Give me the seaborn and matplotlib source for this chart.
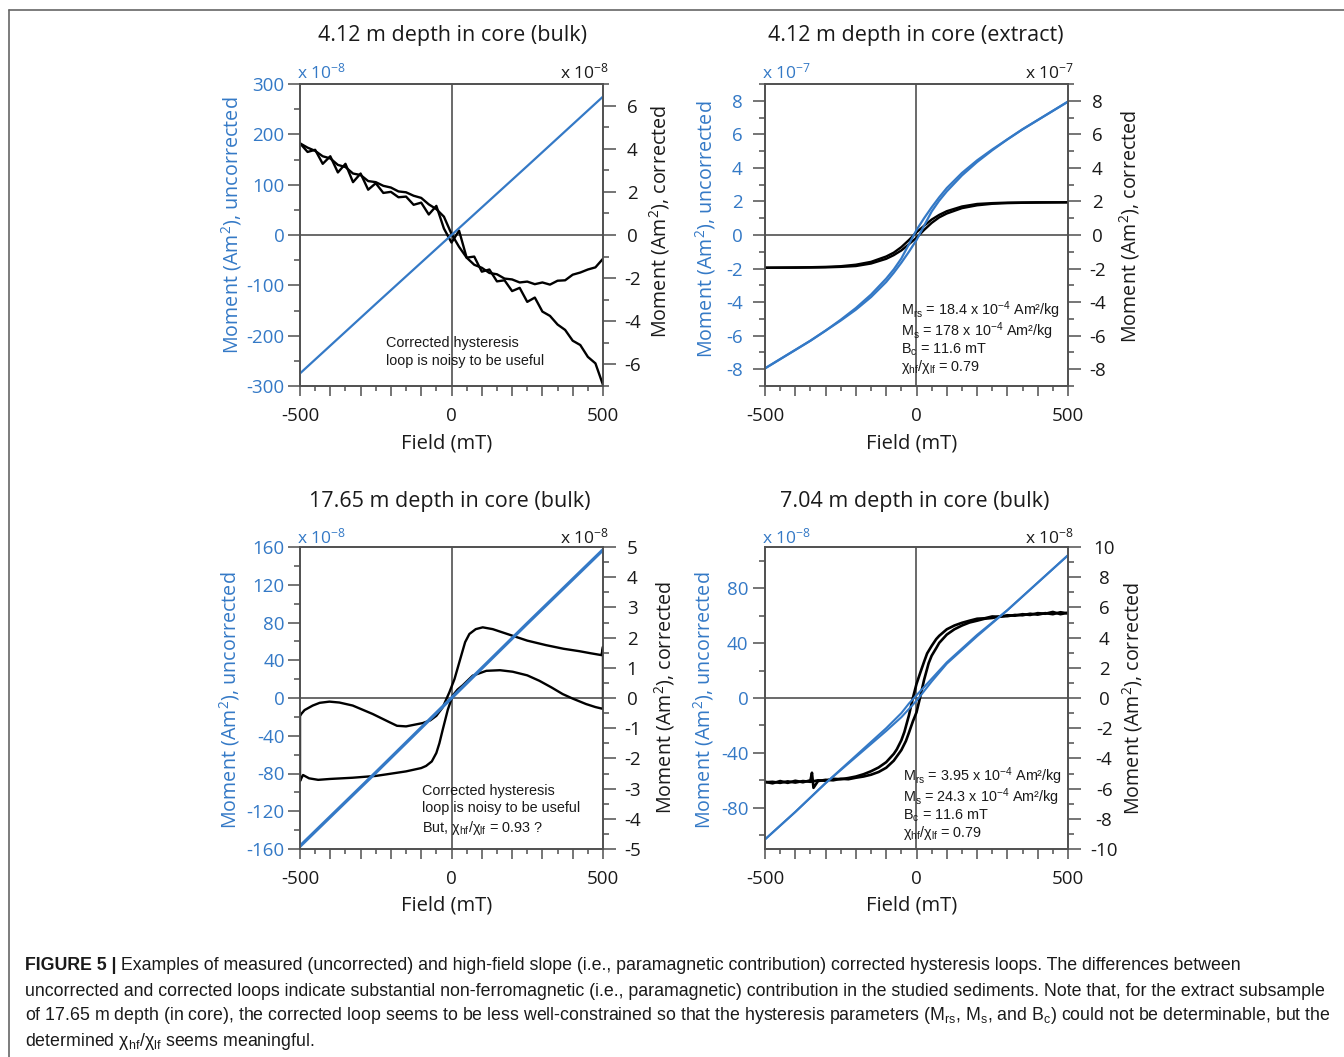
import matplotlib
matplotlib.use("Agg")
import matplotlib.pyplot as plt
import seaborn as sns
from matplotlib.ticker import MultipleLocator, FixedLocator, FuncFormatter
from matplotlib import font_manager
from matplotlib.lines import Line2D

# ---------------- data ----------------
FIELD_25 = [-500, -475, -450, -425, -400, -375, -350, -325, -300, -275, -250,
            -225, -200, -175, -150, -125, -100, -75, -50, -25, 0, 25, 50, 75,
            100, 125, 150, 175, 200, 225, 250, 275, 300, 325, 350, 375, 400,
            425, 450, 475, 500]

# Panel 1: 4.12 m bulk (x1e-8)
p1_blue_field = [-500, -250, 0, 250, 500]
p1_blue = [-275, -137, 0, 137, 275]
p1_corr_a = [4.25, 4.05, 3.90, 3.65, 3.55, 3.25, 3.15, 2.85, 2.78, 2.50, 2.45,
             2.28, 2.20, 2.02, 1.98, 1.82, 1.72, 1.42, 1.20, 0.85, 0.05, -0.55,
             -1.05, -1.38, -1.52, -1.76, -1.82, -2.02, -2.06, -2.20, -2.16,
             -2.28, -2.20, -2.30, -2.12, -2.10, -1.84, -1.74, -1.60, -1.50, -1.10]
p1_corr_b = [4.25, 3.85, 3.95, 3.30, 3.65, 2.90, 3.30, 2.45, 2.85, 2.10, 2.40,
             1.95, 2.00, 1.75, 1.78, 1.40, 1.50, 0.95, 1.35, 0.30, -0.35, 0.20,
             -1.05, -1.00, -1.70, -1.60, -2.15, -2.10, -2.60, -2.45, -3.10,
             -2.90, -3.55, -3.75, -4.15, -4.40, -4.90, -5.10, -5.65, -5.95, -6.95]

# Panel 2: 4.12 m extract (x1e-7)
p2_field = [-500, -450, -400, -350, -300, -250, -200, -150, -100, -75, -50, -25,
            0, 25, 50, 75, 100, 150, 200, 250, 300, 350, 400, 450, 500]
p2_blue_up = [-7.95, -7.40, -6.85, -6.30, -5.70, -5.10, -4.45, -3.70, -2.80,
              -2.25, -1.65, -1.00, -0.30, 0.55, 1.40, 2.05, 2.60, 3.55, 4.35,
              5.05, 5.70, 6.30, 6.85, 7.40, 7.95]
p2_blue_down = [-7.95, -7.40, -6.85, -6.30, -5.70, -5.05, -4.35, -3.55, -2.60,
                -2.05, -1.40, -0.55, 0.30, 1.00, 1.65, 2.25, 2.80, 3.70, 4.45,
                5.10, 5.70, 6.30, 6.85, 7.40, 7.95]
p2_corr_up = [-1.95, -1.95, -1.95, -1.94, -1.93, -1.90, -1.85, -1.70, -1.42,
              -1.20, -0.92, -0.55, -0.16, 0.30, 0.72, 1.05, 1.28, 1.60, 1.77,
              1.86, 1.90, 1.92, 1.93, 1.94, 1.95]
p2_corr_down = [-1.95, -1.94, -1.93, -1.92, -1.90, -1.86, -1.77, -1.60, -1.28,
                -1.05, -0.72, -0.30, 0.16, 0.55, 0.92, 1.20, 1.42, 1.70, 1.85,
                1.90, 1.93, 1.94, 1.95, 1.95, 1.95]

# Panel 3: 17.65 m bulk (x1e-8)
p3_blue_field = [-500, -250, 0, 250, 500]
p3_blue = [-157, -79, 0, 79, 157]
p3_loop_field = [-500, -490, -470, -440, -400, -326, -250, -216, -150, -100, -84,
                 -65, -50, -40, -29, -12, 4, 20, 37, 70, 115, 160, 202, 250, 290,
                 330, 367, 400, 444, 475, 500,
                 500, 495, 460, 422, 370, 312, 250, 202, 160, 136, 103, 80, 59,
                 45, 32, 20, 10, -7, -29, -50, -70, -95, -150, -180, -205, -260,
                 -326, -370, -403, -435, -458, -485, -496, -500, -500]
p3_loop = [-2.75, -2.55, -2.66, -2.71, -2.68, -2.64, -2.58, -2.53, -2.43, -2.32,
           -2.25, -2.10, -1.82, -1.50, -1.05, -0.38, 0.08, 0.28, 0.42, 0.74, 0.90,
           0.92, 0.87, 0.75, 0.57, 0.35, 0.13, -0.02, -0.20, -0.30, -0.36,
           1.70, 1.42, 1.48, 1.55, 1.63, 1.75, 1.90, 2.06, 2.20, 2.28, 2.34, 2.28,
           2.12, 1.85, 1.40, 0.98, 0.63, 0.19, -0.31, -0.59, -0.74, -0.83, -0.94,
           -0.92, -0.80, -0.53, -0.25, -0.15, -0.12, -0.16, -0.25, -0.40, -0.53,
           -0.60, -2.75]

# Panel 4: 7.04 m bulk (x1e-8)
p4_blue_field = [-500, -400, -300, -200, -100, -50, -25, 0, 25, 50, 100, 200,
                 300, 400, 500]
p4_blue_up = [-103, -83, -62, -43, -24, -14, -8, -2, 5, 12, 25, 45, 64, 84, 104]
p4_blue_down = [-103, -83, -62, -42, -22, -11, -4, 2, 8, 14, 26, 46, 64, 84, 104]
p4_up_field = [-500, -475, -450, -425, -400, -375, -350, -345, -340, -325, -300,
               -275, -250, -225, -200, -175, -150, -125, -100, -75, -50, -35,
               -25, -12, 0, 12, 25, 40, 50, 65, 75, 100, 125, 150, 175, 200,
               225, 250, 275, 300, 325, 350, 375, 400, 425, 450, 475, 500]
p4_up = [-5.55, -5.65, -5.50, -5.62, -5.48, -5.58, -5.45, -4.95, -5.95, -5.50,
         -5.42, -5.45, -5.35, -5.38, -5.28, -5.20, -5.08, -4.90, -4.62, -4.15,
         -3.45, -2.85, -2.30, -1.55, -0.95, 0.05, 1.20, 2.30, 2.80, 3.30, 3.65,
         4.20, 4.55, 4.80, 5.00, 5.12, 5.25, 5.30, 5.40, 5.42, 5.50, 5.48, 5.58,
         5.52, 5.62, 5.55, 5.68, 5.60]
p4_down_field = [500, 475, 450, 425, 400, 375, 350, 325, 300, 275, 250, 225, 200,
                 175, 150, 125, 100, 75, 65, 50, 35, 25, 12, 0, -12, -25, -40,
                 -50, -65, -75, -100, -125, -150, -175, -200, -225, -250, -275,
                 -300, -325, -350, -375, -400, -425, -450, -475, -500]
p4_down = [5.65, 5.55, 5.70, 5.58, 5.62, 5.50, 5.55, 5.45, 5.48, 5.38, 5.40,
           5.28, 5.25, 5.12, 4.98, 4.80, 4.55, 4.12, 3.90, 3.45, 2.95, 2.40,
           1.65, 0.93, 0.00, -1.15, -2.25, -2.80, -3.40, -3.70, -4.25, -4.60,
           -4.85, -5.05, -5.20, -5.30, -5.38, -5.35, -5.48, -5.45, -5.55, -5.50,
           -5.60, -5.52, -5.62, -5.55, -5.58]

titles = ["4.12 m depth in core (bulk)", "4.12 m depth in core (extract)",
          "17.65 m depth in core (bulk)", "7.04 m depth in core (bulk)"]
exponents = ["-8", "-7", "-8", "-8"]
notes = [
    ["Corrected hysteresis", "loop is noisy to be useful"],
    [r"M$_{rs}$ = 18.4 x 10$^{-4}$ Am²/kg", r"M$_{s}$ = 178 x 10$^{-4}$ Am²/kg",
     r"B$_{c}$ = 11.6 mT", r"χ$_{hf}$/χ$_{lf}$ = 0.79"],
    ["Corrected hysteresis", "loop is noisy to be useful", r"But, χ$_{hf}$/χ$_{lf}$ = 0.93 ?"],
    [r"M$_{rs}$ = 3.95 x 10$^{-4}$ Am²/kg", r"M$_{s}$ = 24.3 x 10$^{-4}$ Am²/kg",
     r"B$_{c}$ = 11.6 mT", r"χ$_{hf}$/χ$_{lf}$ = 0.79"],
]
caption_bold = "FIGURE 5 |"
caption_lines = [
    " Examples of measured (uncorrected) and high-field slope (i.e., paramagnetic contribution) corrected hysteresis loops. The differences between",
    "uncorrected and corrected loops indicate substantial non-ferromagnetic (i.e., paramagnetic) contribution in the studied sediments. Note that, for the extract subsample",
    r"of 17.65 m depth (in core), the corrected loop seems to be less well-constrained so that the hysteresis parameters (M$_{rs}$, M$_{s}$, and B$_{c}$) could not be determinable, but the",
    r"determined χ$_{hf}$/χ$_{lf}$ seems meaningful.",
]

# ---------------- style ----------------
sns.set_style("white")
plt.rcParams['font.family'] = ['Open Sans', 'DejaVu Sans']
plt.rcParams['axes.unicode_minus'] = False
plt.rcParams['mathtext.default'] = 'regular'

W, H = 1344, 1057
fig = plt.figure(figsize=(W / 100, H / 100), dpi=100)


def fx(px):
    return px / W


def fy(py):
    return 1 - py / H


BLUE = '#3479c6'
GREY = '#505050'
ANN = ['Liberation Sans', 'DejaVu Sans']
names = [f.name for f in font_manager.fontManager.ttflist]
CAP = ['Liberation Sans Narrow', 'DejaVu Sans'] if 'Liberation Sans Narrow' in names else ['Liberation Sans', 'DejaVu Sans']

panels = [
    dict(box=(300, 84, 603, 386), ylim=(-300, 300), ymaj=100, ymin=50,
         y2lim=(-7, 7), y2maj=2, y2min=1, lpad=2, rpad=12),
    dict(box=(765, 84, 1068, 386), ylim=(-9, 9), ymaj=2, ymin=1,
         y2lim=(-9, 9), y2maj=2, y2min=1, lpad=7, rpad=12),
    dict(box=(300, 547, 603, 849), ylim=(-160, 160), ymaj=40, ymin=20,
         y2lim=(-5, 5), y2maj=1, y2min=0.5, lpad=2, rpad=12),
    dict(box=(765, 547, 1068, 849), ylim=(-110, 110), ymaj=40, ymin=20,
         y2lim=(-10, 10), y2maj=2, y2min=1, lpad=3, rpad=17),
]

fmt = FuncFormatter(lambda v, p: f"{v:g}")
xfmt = FuncFormatter(lambda v, p: f"{int(v)}" if int(round(v)) in (-500, 0, 500) else "")
TL = 13.5

axes = []
for i, p in enumerate(panels):
    l, t, r, b = p['box']
    ax = fig.add_axes([fx(l), fy(b), (r - l) / W, (b - t) / H])
    ax2 = ax.twinx()
    ax.set_zorder(ax2.get_zorder() + 1)
    ax.patch.set_visible(False)
    ax2.axhline(0, color=GREY, lw=1.2, zorder=1)
    ax2.axvline(0, color=GREY, lw=1.2, zorder=1)
    ax.set_xlim(-500, 500)
    ax.set_ylim(*p['ylim'])
    ax2.set_ylim(*p['y2lim'])
    for a in (ax, ax2):
        for s in a.spines.values():
            s.set_color(GREY)
            s.set_linewidth(1.2)
    ax.xaxis.set_major_locator(FixedLocator([-500, -400, -300, -200, -100, 0, 100, 200, 300, 400, 500]))
    ax.xaxis.set_minor_locator(MultipleLocator(50))
    ax.xaxis.set_major_formatter(xfmt)
    ax.yaxis.set_major_locator(MultipleLocator(p['ymaj']))
    ax.yaxis.set_minor_locator(MultipleLocator(p['ymin']))
    ax.yaxis.set_major_formatter(fmt)
    ax2.yaxis.set_major_locator(MultipleLocator(p['y2maj']))
    ax2.yaxis.set_minor_locator(MultipleLocator(p['y2min']))
    ax2.yaxis.set_major_formatter(fmt)
    ax.tick_params(axis='x', which='major', direction='out', length=7, width=1.1,
                   color=GREY, bottom=True, top=False, labelsize=TL, pad=8,
                   labelcolor='#1a1a1a')
    ax.tick_params(axis='x', which='minor', direction='out', length=3.5, width=1.1,
                   color=GREY, bottom=True, top=False)
    ax.tick_params(axis='y', which='major', direction='out', length=9, width=1.1,
                   color=GREY, left=True, right=False, labelsize=TL,
                   labelcolor=BLUE, pad=p['lpad'])
    ax.tick_params(axis='y', which='minor', direction='out', length=4.5, width=1.1,
                   color=GREY, left=True, right=False)
    ax2.tick_params(axis='y', which='major', direction='out', length=9, width=1.1,
                    color=GREY, left=False, right=True, labelsize=TL,
                    labelcolor='#1a1a1a', pad=p['rpad'])
    ax2.tick_params(axis='y', which='minor', direction='out', length=4.5, width=1.1,
                    color=GREY, left=False, right=True)
    axes.append((ax, ax2))

# ---- curves ----
(a1, b1), (a2, b2), (a3, b3), (a4, b4) = axes
kw = dict(sort=False, estimator=None, legend=False)
sns.lineplot(x=FIELD_25, y=p1_corr_a, ax=b1, color='black', lw=1.7, zorder=3, **kw)
sns.lineplot(x=FIELD_25, y=p1_corr_b, ax=b1, color='black', lw=1.7, zorder=3, **kw)
sns.lineplot(x=p1_blue_field, y=p1_blue, ax=a1, color=BLUE, lw=1.6, **kw)

sns.lineplot(x=p2_field, y=p2_corr_up, ax=b2, color='black', lw=1.7, zorder=3, **kw)
sns.lineplot(x=p2_field, y=p2_corr_down, ax=b2, color='black', lw=1.7, zorder=3, **kw)
sns.lineplot(x=p2_field, y=p2_blue_up, ax=a2, color=BLUE, lw=1.6, **kw)
sns.lineplot(x=p2_field, y=p2_blue_down, ax=a2, color=BLUE, lw=1.6, **kw)

sns.lineplot(x=p3_loop_field, y=p3_loop, ax=b3, color='black', lw=1.7, zorder=3, **kw)
sns.lineplot(x=p3_blue_field, y=p3_blue, ax=a3, color=BLUE, lw=2.4, **kw)

sns.lineplot(x=p4_up_field, y=p4_up, ax=b4, color='black', lw=1.9, zorder=3, **kw)
sns.lineplot(x=p4_down_field, y=p4_down, ax=b4, color='black', lw=1.9, zorder=3, **kw)
sns.lineplot(x=p4_blue_field, y=p4_blue_up, ax=a4, color=BLUE, lw=1.5, **kw)
sns.lineplot(x=p4_blue_field, y=p4_blue_down, ax=a4, color=BLUE, lw=1.5, **kw)

for ax, ax2 in axes:
    for a in (ax, ax2):
        a.set_xlabel("")
        a.set_ylabel("")
    ax.set_xlim(-500, 500)
    plt.setp(ax2.yaxis.get_majorticklabels(), ha='center')

# ---- texts ----
title_pos = [(452, 36), (916, 36), (450, 501), (915, 501)]
for (x, y), tt in zip(title_pos, titles):
    fig.text(fx(x), fy(y), tt, ha='center', va='center', fontsize=15.5,
             color='#1a1a1a')

exp_y = [72, 72, 537, 537]
for i, p in enumerate(panels):
    l, t, r, b = p['box']
    fig.text(fx(l - 3), fy(exp_y[i]), "x 10$^{%s}$" % exponents[i], color=BLUE,
             ha='left', va='center', fontsize=12.5)
    fig.text(fx(r + 6), fy(exp_y[i]), "x 10$^{%s}$" % exponents[i], color='#1a1a1a',
             ha='right', va='center', fontsize=12.5)
    fig.text(fx((l + r) / 2 - 5), fy(b + 57), "Field (mT)", ha='center', va='center',
             fontsize=14.5, color='#1a1a1a')

ylab_left = [(232, 225), (706, 229), (230, 700), (704, 700)]
ylab_right = [(660, 221), (1130, 226), (665, 697), (1133, 698)]
for (x, y) in ylab_left:
    fig.text(fx(x), fy(y), "Moment (Am$^{2}$), uncorrected", color=BLUE, rotation=90,
             ha='center', va='center', fontsize=14.2)
for (x, y) in ylab_right:
    fig.text(fx(x), fy(y), "Moment (Am$^{2}$), corrected", color='#1a1a1a', rotation=90,
             ha='center', va='center', fontsize=14.2)

# annotation blocks: (left x, top y of block, line spacing)
note_pos = [(386, 336, 1.33), (901, 299, 0.98), (422, 784, 1.28), (903, 765, 0.98)]
for (x, ytop, ls), lines in zip(note_pos, notes):
    fig.text(fx(x), fy(ytop), "\n".join(lines), ha='left', va='top', fontsize=10.4,
             family=ANN, color='#1a1a1a', linespacing=ls)

# frame
fig.add_artist(Line2D([fx(9), 1], [fy(10), fy(10)], transform=fig.transFigure,
                      color='#666666', lw=1.2))
fig.add_artist(Line2D([fx(9), fx(9)], [fy(10), 0], transform=fig.transFigure,
                      color='#666666', lw=1.2))

# caption
cap_size = 12.8
cap_y = [965, 991, 1016, 1041]
tb = fig.text(fx(25), fy(cap_y[0]), caption_bold, ha='left', va='center',
              fontsize=cap_size, fontweight='bold', family=CAP, color='#1a1a1a')
fig.canvas.draw()
ext = tb.get_window_extent(renderer=fig.canvas.get_renderer())
fig.text(ext.x1 / W, fy(cap_y[0]), caption_lines[0], ha='left', va='center',
         fontsize=cap_size, family=CAP, color='#1a1a1a')
for y, s in zip(cap_y[1:], caption_lines[1:]):
    fig.text(fx(25), fy(y), s, ha='left', va='center', fontsize=cap_size, family=CAP,
             color='#1a1a1a')

fig.savefig("out.png", dpi=100)
